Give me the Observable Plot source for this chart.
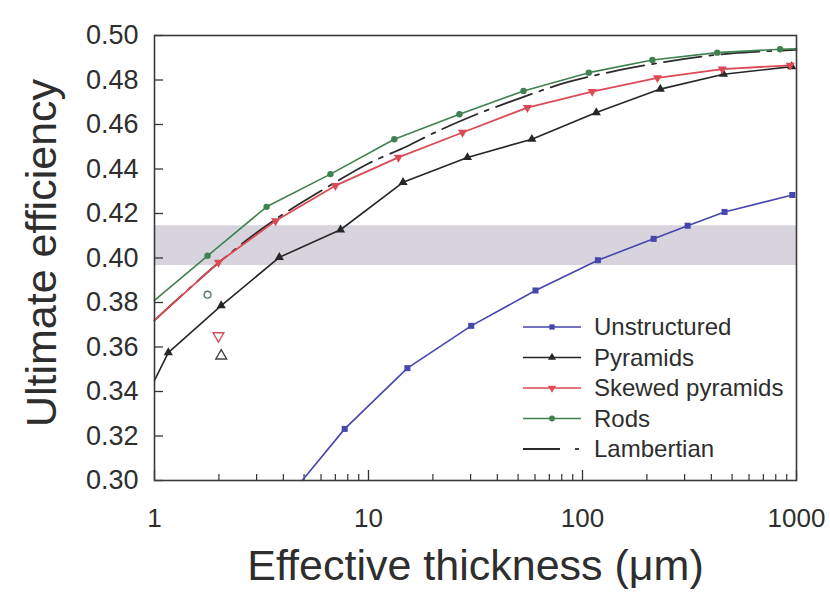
<!DOCTYPE html>
<html>
<head>
<meta charset="utf-8">
<script src="https://cdn.jsdelivr.net/npm/d3@7"></script>
<script src="https://cdn.jsdelivr.net/npm/@observablehq/plot@0.6"></script>
<style>
  body { margin: 0; background: #fff; }
  #chart { width: 830px; height: 596px; }
</style>
</head>
<body>
<div id="chart"></div>
<script>
// Ultimate efficiency vs. effective thickness for several surface textures.
// Curves are given at their sampled thicknesses (µm); the first / last entries
// of some series are where the curve meets the frame (no marker there).
const unstructuredX = [4.9, 7.74, 15.2, 30.2, 60.3, 118, 215, 310, 461, 956];
const unstructuredY = [0.300, 0.3232, 0.3505, 0.3695, 0.3854, 0.3990, 0.4086, 0.4145, 0.4207, 0.4283];

const pyramidsX = [1, 1.16, 2.05, 3.83, 7.4, 14.5, 29, 58, 116, 231, 456, 950];
const pyramidsY = [0.345, 0.3575, 0.3786, 0.4003, 0.4127, 0.4340, 0.4452, 0.4534, 0.4654, 0.4759, 0.4826, 0.4860];

const skewedX = [1, 1.99, 3.68, 7.0, 13.8, 27.5, 55.3, 111, 224, 450, 935];
const skewedY = [0.372, 0.3980, 0.4167, 0.4325, 0.4452, 0.4564, 0.4676, 0.4748, 0.4810, 0.4849, 0.4866];

const rodsX = [1, 1.77, 3.34, 6.64, 13.2, 26.6, 53, 107, 212, 426, 838, 1000];
const rodsY = [0.381, 0.4010, 0.4230, 0.4377, 0.4534, 0.4646, 0.4751, 0.4833, 0.4890, 0.4923, 0.4938, 0.4940];

const lambertianX = [1, 2, 3.5, 7, 10, 15, 20, 30, 50, 85, 150, 300, 500, 1000];
const lambertianY = [0.372, 0.398, 0.416, 0.434, 0.4425, 0.450, 0.456, 0.4635, 0.4715, 0.479, 0.4845, 0.4895, 0.492, 0.4935];

// Single open symbols near 2 µm
const openLabels = ["Rods", "Skewed pyramids", "Pyramids"];
const openX = [1.77, 1.99, 2.05];
const openY = [0.3835, 0.365, 0.356];

// Shaded efficiency band
const bandLow = 0.3966;
const bandHigh = 0.4145;

const seriesNames = ["Unstructured", "Pyramids", "Skewed pyramids", "Rods", "Lambertian"];
const seriesColors = ["#4646ae", "#262626", "#dc4b55", "#3f8150", "#2b2b2b"];

const xMajor = [1, 10, 100, 1000];
const xMinor = [2, 3, 4, 5, 6, 7, 8, 9, 20, 30, 40, 50, 60, 70, 80, 90, 200, 300, 400, 500, 600, 700, 800, 900];
const yTicks = [0.30, 0.32, 0.34, 0.36, 0.38, 0.40, 0.42, 0.44, 0.46, 0.48, 0.50];

const zip = (xs, ys, name) => xs.map((x, i) => ({x, y: ys[i], name}));
const unstructured = zip(unstructuredX, unstructuredY, "Unstructured");
const pyramids = zip(pyramidsX, pyramidsY, "Pyramids");
const skewed = zip(skewedX, skewedY, "Skewed pyramids");
const rods = zip(rodsX, rodsY, "Rods");
const lambertian = zip(lambertianX, lambertianY, "Lambertian");
const openPts = zip(openX, openY).map((d, i) => ({...d, name: openLabels[i]}));

// markers are only drawn at sampled points inside the frame
const inside = d => d.x > 1 && d.x < 1000 && d.y > 0.30;

// downward-pointing triangle
const triangleDown = {
  draw(context, size) {
    const y = -Math.sqrt(size / (Math.sqrt(3) * 3));
    context.moveTo(0, -y * 2);
    context.lineTo(-Math.sqrt(3) * y, y);
    context.lineTo(Math.sqrt(3) * y, y);
    context.closePath();
  }
};

const W = 830, H = 596;
const mL = 154, mR = 34, mT = 35, mB = 116;
const innerW = W - mL - mR, innerH = H - mT - mB;
const color = name => seriesColors[seriesNames.indexOf(name)];
const FONT = "'Liberation Sans', Arial, Helvetica, sans-serif";

const chart = Plot.plot({
  width: W,
  height: H,
  marginLeft: mL,
  marginRight: mR,
  marginTop: mT,
  marginBottom: mB,
  style: {fontFamily: FONT, background: "#fff", color: "#333"},
  x: {type: "log", domain: [1, 1000], axis: null},
  y: {domain: [0.30, 0.50], axis: null},
  marks: [
    Plot.rect([{lo: bandLow, hi: bandHigh}], {y1: "lo", y2: "hi", fill: "#d8d4de"}),

    // inward ticks
    Plot.ruleX(xMajor, {x: d => d, insetTop: innerH - 10, stroke: "#333", strokeWidth: 1.3}),
    Plot.ruleX(xMinor, {x: d => d, insetTop: innerH - 6, stroke: "#333", strokeWidth: 1.2}),
    Plot.ruleY(yTicks, {y: d => d, insetRight: innerW - 9, stroke: "#333", strokeWidth: 1.3}),

    // tick labels
    Plot.axisX({ticks: xMajor, tickSize: 0, tickPadding: 28, fontSize: 26, tickFormat: d => String(d), label: null, fill: "#2e2e2e"}),
    Plot.axisY({ticks: yTicks, tickSize: 0, tickPadding: 16, fontSize: 27, tickFormat: d3.format(".2f"), label: null, fill: "#2e2e2e"}),

    // axis titles
    Plot.text(["Effective thickness (μm)"], {frameAnchor: "bottom", textAnchor: "middle", dy: 99, fontSize: 43, fill: "#2e2e2e"}),
    Plot.text(["Ultimate efficiency"], {frameAnchor: "left", textAnchor: "middle", dx: -112, dy: -5, rotate: -90, fontSize: 43, fill: "#2e2e2e"}),

    // curves
    Plot.line(lambertian, {x: "x", y: "y", stroke: color("Lambertian"), strokeWidth: 1.8, strokeDasharray: "38,8,4,8", curve: "catmull-rom"}),
    Plot.line(unstructured, {x: "x", y: "y", stroke: color("Unstructured"), strokeWidth: 1.6}),
    Plot.line(pyramids, {x: "x", y: "y", stroke: color("Pyramids"), strokeWidth: 1.6}),
    Plot.line(skewed, {x: "x", y: "y", stroke: color("Skewed pyramids"), strokeWidth: 1.8}),
    Plot.line(rods, {x: "x", y: "y", stroke: color("Rods"), strokeWidth: 1.6}),

    // sampled points
    Plot.dot(unstructured.filter(inside), {x: "x", y: "y", symbol: "square", r: 3.4, fill: color("Unstructured"), stroke: null}),
    Plot.dot(pyramids.filter(inside), {x: "x", y: "y", symbol: "triangle", r: 3.4, fill: color("Pyramids"), stroke: null}),
    Plot.dot(skewed.filter(inside), {x: "x", y: "y", symbol: triangleDown, r: 3.4, fill: color("Skewed pyramids"), stroke: null}),
    Plot.dot(rods.filter(inside), {x: "x", y: "y", symbol: "circle", r: 3.2, fill: color("Rods"), stroke: null}),

    // open symbols
    Plot.dot(openPts.filter(d => d.name === "Rods"), {x: "x", y: "y", symbol: "circle", r: 3.4, fill: "#fff", stroke: "#5a7a60", strokeWidth: 1.4}),
    Plot.dot(openPts.filter(d => d.name === "Skewed pyramids"), {x: "x", y: "y", symbol: triangleDown, r: 4, fill: "#fff", stroke: "#d0505a", strokeWidth: 1.4}),
    Plot.dot(openPts.filter(d => d.name === "Pyramids"), {x: "x", y: "y", symbol: "triangle", r: 4, fill: "#fff", stroke: "#444", strokeWidth: 1.4}),

    Plot.frame({stroke: "#3a3a3a", strokeWidth: 1.6})
  ]
});

// legend in the lower-right of the plot area
const svg = d3.select(chart);
const lg = svg.append("g")
  .attr("font-family", FONT)
  .attr("font-size", 24)
  .attr("text-anchor", "start")
  .attr("fill", "#2e2e2e");
const symbolOf = [d3.symbolSquare, d3.symbolTriangle, triangleDown, d3.symbolCircle];
seriesNames.forEach((name, i) => {
  const y = 327 + i * 30.5;
  const g = lg.append("g").attr("transform", `translate(523,${y})`);
  if (name === "Lambertian") {
    g.append("line").attr("x1", 0).attr("x2", 37).attr("y1", 0).attr("y2", 0)
      .attr("stroke", seriesColors[i]).attr("stroke-width", 1.8);
    g.append("line").attr("x1", 52).attr("x2", 56).attr("y1", 0).attr("y2", 0)
      .attr("stroke", seriesColors[i]).attr("stroke-width", 1.8);
  } else {
    g.append("line").attr("x1", 0).attr("x2", 58).attr("y1", 0).attr("y2", 0)
      .attr("stroke", seriesColors[i]).attr("stroke-width", 1.6);
    g.append("path").attr("transform", "translate(29,0)")
      .attr("d", d3.symbol(symbolOf[i], 28)()).attr("fill", seriesColors[i]);
  }
  g.append("text").attr("x", 71).attr("y", 0).attr("dy", "0.35em").attr("text-anchor", "start").text(name);
});

document.getElementById("chart").appendChild(chart);
</script>
</body>
</html>
